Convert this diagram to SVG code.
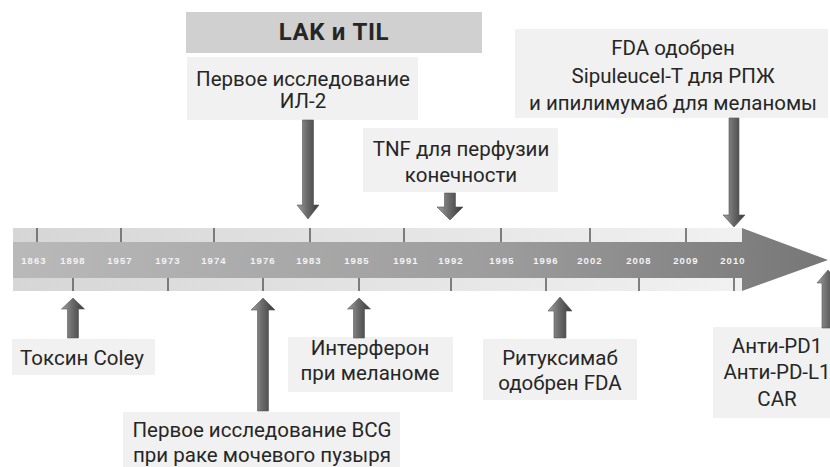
<svg xmlns="http://www.w3.org/2000/svg" width="830" height="467" viewBox="0 0 830 467">
<defs>
<linearGradient id="gLight" gradientUnits="userSpaceOnUse" x1="13" y1="0" x2="742" y2="0">
<stop offset="0" stop-color="#d6d6d6"/><stop offset="1" stop-color="#f1f1f1"/>
</linearGradient>
<linearGradient id="gDark" gradientUnits="userSpaceOnUse" x1="13" y1="0" x2="828" y2="0">
<stop offset="0" stop-color="#b9b9b9"/><stop offset="0.6" stop-color="#9c9c9c"/><stop offset="1" stop-color="#767676"/>
</linearGradient>
<linearGradient id="gArrow" x1="0" y1="0" x2="1" y2="0">
<stop offset="0" stop-color="#a0a0a0"/><stop offset="0.45" stop-color="#6c6c6c"/><stop offset="1" stop-color="#383838"/>
</linearGradient>
<style>
.box{fill:#f1f1f1}
.lbl{font-family:Roboto,"Open Sans",sans-serif;font-size:20.5px;fill:#262626;text-anchor:middle}
.yr{font-family:"Liberation Sans",Arial,sans-serif;font-size:9.5px;font-weight:bold;fill:#f4f4f4;text-anchor:middle;letter-spacing:1.1px}
.tick{stroke:#5a5a5a;stroke-width:1.5}
.arr{fill:url(#gArrow);stroke:#555;stroke-width:0.6}
</style>
</defs>

<g id="timeline">
<rect x="13" y="228" width="729" height="63" fill="url(#gLight)"/>
<path d="M13,242 H742 V228 L828,260 L742,291 V278 H13 Z" fill="url(#gDark)"/>
<g class="tick">
<line x1="37" y1="228" x2="37" y2="242"/><line x1="121" y1="228" x2="121" y2="242"/><line x1="214" y1="228" x2="214" y2="242"/><line x1="310" y1="228" x2="310" y2="242"/><line x1="404" y1="228" x2="404" y2="242"/><line x1="501" y1="228" x2="501" y2="242"/><line x1="590" y1="228" x2="590" y2="242"/><line x1="686" y1="228" x2="686" y2="242"/>
<line x1="73" y1="278" x2="73" y2="291"/><line x1="168" y1="278" x2="168" y2="291"/><line x1="263" y1="278" x2="263" y2="291"/><line x1="359" y1="278" x2="359" y2="291"/><line x1="451" y1="278" x2="451" y2="291"/><line x1="546" y1="278" x2="546" y2="291"/><line x1="639" y1="278" x2="639" y2="291"/><line x1="734" y1="278" x2="734" y2="291"/>
</g>
<g class="yr">
<text x="34" y="264">1863</text><text x="73" y="264">1898</text><text x="120" y="264">1957</text><text x="168" y="264">1973</text><text x="214" y="264">1974</text><text x="263" y="264">1976</text><text x="309" y="264">1983</text><text x="357" y="264">1985</text><text x="406" y="264">1991</text><text x="451" y="264">1992</text><text x="502" y="264">1995</text><text x="546" y="264">1996</text><text x="590" y="264">2002</text><text x="639" y="264">2008</text><text x="686" y="264">2009</text><text x="733" y="264">2010</text>
</g>
</g>

<g id="lak-til">
<rect x="186" y="12" width="296" height="41" fill="#d0d0d0"/>
<text class="lbl" x="334" y="40" style="font-weight:bold;font-size:24px;letter-spacing:0.6px">LAK и TIL</text>
</g>

<g id="il2">
<rect class="box" x="187" y="57" width="231" height="63"/>
<text class="lbl" x="303" y="86">Первое исследование</text>
<text class="lbl" x="303" y="108">ИЛ-2</text>
</g>

<g id="tnf">
<rect class="box" x="363" y="128" width="195" height="64"/>
<text class="lbl" x="461" y="156">TNF для перфузии</text>
<text class="lbl" x="461" y="182">конечности</text>
</g>

<g id="fda">
<rect class="box" x="515" y="29" width="313" height="89"/>
<text class="lbl" x="673" y="55">FDA одобрен</text>
<text class="lbl" x="673" y="83">Sipuleucel-T для РПЖ</text>
<text class="lbl" x="673" y="110">и ипилимумаб для меланомы</text>
</g>

<g id="coley">
<rect class="box" x="12" y="339" width="143" height="36"/>
<text class="lbl" x="82" y="365">Токсин Coley</text>
</g>

<g id="bcg">
<rect class="box" x="123" y="412" width="277" height="55"/>
<text class="lbl" x="262" y="437">Первое исследование BCG</text>
<text class="lbl" x="262" y="462">при раке мочевого пузыря</text>
</g>

<g id="interferon">
<rect class="box" x="288" y="337" width="165" height="55"/>
<text class="lbl" x="370" y="355">Интерферон</text>
<text class="lbl" x="370" y="380">при меланоме</text>
</g>

<g id="rituximab">
<rect class="box" x="483" y="339" width="154" height="61"/>
<text class="lbl" x="560" y="365">Ритуксимаб</text>
<text class="lbl" x="560" y="390">одобрен FDA</text>
</g>

<g id="anti-pd">
<rect class="box" x="713" y="327" width="117" height="91"/>
<text class="lbl" x="777" y="353">Анти-PD1</text>
<text class="lbl" x="777" y="379">Анти-PD-L1</text>
<text class="lbl" x="777" y="406">CAR</text>
</g>

<g id="connectors">
<path class="arr" d="M302.5,120 H313.5 V205 H319 L308,219 L297,205 H302.5 Z"/>
<path class="arr" d="M444.5,193 H455.5 V207 H463 L450,220 L437,207 H444.5 Z"/>
<path class="arr" d="M729,118 H739 V215 H745 L734,227 L723,215 H729 Z"/>
<path class="arr" d="M67.5,338 H78.5 V309 H84.5 L73,298 L61.5,309 H67.5 Z"/>
<path class="arr" d="M257.5,411 H268.5 V310 H275 L263,298 L251,310 H257.5 Z"/>
<path class="arr" d="M353.5,338 H364.5 V309 H370.5 L359,298 L347.5,309 H353.5 Z"/>
<path class="arr" d="M554,338 H566 V311 H572 L560,297 L548,311 H554 Z"/>
<path class="arr" d="M822,328 H834 V283 H839 L828,270 L817,283 H822 Z"/>
</g>
</svg>
